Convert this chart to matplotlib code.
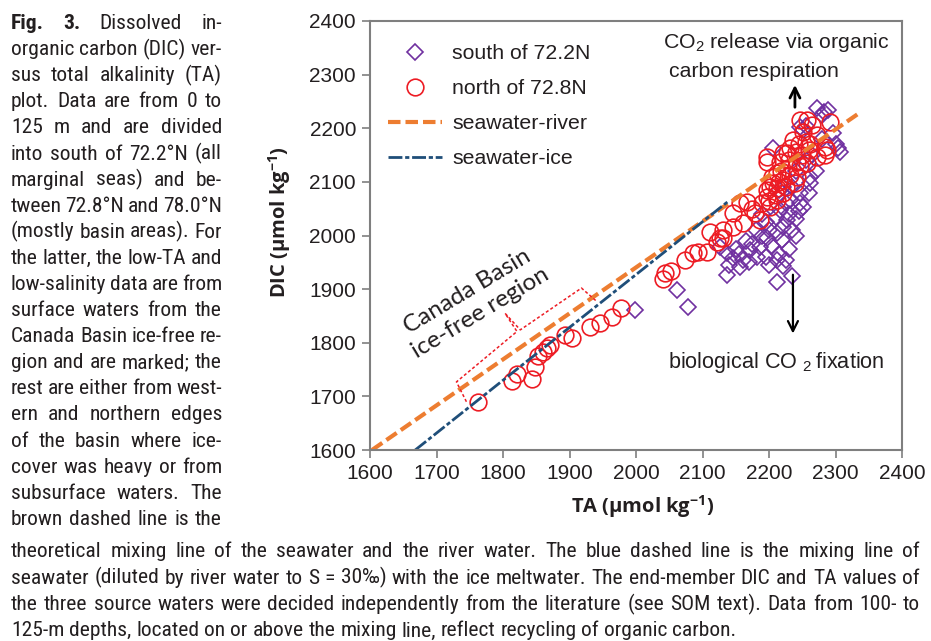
import matplotlib
matplotlib.use('Agg')
import matplotlib.pyplot as plt
from matplotlib import font_manager
from matplotlib.font_manager import FontProperties

W, H = 931, 641

# --- data ---
south_ta = [1998, 2062, 2078, 2137, 2212, 2221, 2156, 2212, 2161, 2146, 2137, 2126, 2171, 2182,
            2186, 2197, 2212, 2220, 2221, 2227, 2217, 2232, 2247, 2251, 2262, 2247, 2221, 2206,
            2251, 2247, 2296, 2304, 2307, 2272, 2289, 2280, 2255, 2230, 2240, 2200, 2190, 2175,
            2165, 2150, 2205, 2235, 2240, 2195, 2210, 2180, 2245, 2230, 2155, 2140, 2195, 2200,
            2225, 2260, 2270, 2265, 2240, 2255, 2235, 2190, 2215, 2280, 2300, 2215, 2170, 2225,
            2283, 2262, 2235]
south_dic = [1862, 1898, 1867, 1926, 1913, 1943, 1941, 1954, 1954, 1958, 1967, 1979, 1973, 1960,
             1979, 1995, 2005, 1992, 2016, 2029, 2047, 2066, 2079, 2053, 2098, 2060, 2091, 2163,
             2197, 2202, 2191, 2163, 2156, 2238, 2234, 2225, 2205, 2040, 2030, 2010, 2000, 1985,
             1990, 1975, 1980, 2010, 2000, 2025, 2035, 2010, 2045, 1975, 1965, 1945, 1960, 1945,
             2060, 2080, 2120, 2150, 2120, 2140, 2090, 2040, 2085, 2180, 2170, 1965, 1950, 1955,
             2230, 2110, 1925]

north_ta = [1763, 1814, 1821, 1844, 1848, 1853, 1860, 1866, 1871, 1893, 1904, 1931, 1946, 1964,
            1978, 2040, 2043, 2052, 2074, 2086, 2093, 2107, 2122, 2131, 2111, 2126, 2131, 2146,
            2146, 2156, 2161, 2167, 2179, 2186, 2197, 2202, 2197, 2202, 2206, 2212, 2212, 2221,
            2221, 2242, 2197, 2197, 2217, 2212, 2221, 2227, 2232, 2232, 2239, 2242, 2257, 2247,
            2250, 2260, 2272, 2284, 2284, 2287, 2272, 2251, 2247, 2257, 2265, 2292, 2236, 2245,
            2229, 2215, 2225, 2210, 2190, 2175, 2230, 2255, 2240, 2262, 2205, 2218, 2200]
north_dic = [1690, 1728, 1742, 1732, 1755, 1775, 1782, 1790, 1796, 1815, 1809, 1829, 1837, 1848,
             1864, 1918, 1930, 1934, 1955, 1967, 1970, 1970, 1988, 1996, 2006, 1995, 2010, 2016,
             2042, 2060, 2023, 2062, 2042, 2029, 2072, 2053, 2085, 2091, 2098, 2066, 2117, 2079,
             2104, 2109, 2137, 2147, 2137, 2089, 2154, 2154, 2163, 2113, 2098, 2137, 2135, 2130,
             2150, 2160, 2147, 2165, 2150, 2160, 2187, 2193, 2215, 2215, 2206, 2212, 2178, 2170,
             2125, 2100, 2090, 2075, 2060, 2050, 2140, 2175, 2155, 2170, 2110, 2120, 2065]

river_ta = [1603, 2333]
river_dic = [1600, 2226]
ice_ta = [1668, 2140]
ice_dic = [1600, 2065]

bracket_ta = [1745, 1730, 1821, 1803, 1826, 1918, 1941]
bracket_dic = [1690, 1727, 1821, 1855, 1824, 1902, 1877]

ticks = list(range(1600, 2401, 100))

caption_left = [
    "Fig. 3. Dissolved in-",
    "organic carbon (DIC) ver-",
    "sus total alkalinity (TA)",
    "plot. Data are from 0 to",
    "125 m and are divided",
    "into south of 72.2°N (all",
    "marginal seas) and be-",
    "tween 72.8°N and 78.0°N",
    "(mostly basin areas). For",
    "the latter, the low-TA and",
    "low-salinity data are from",
    "surface waters from the",
    "Canada Basin ice-free re-",
    "gion and are marked; the",
    "rest are either from west-",
    "ern and northern edges",
    "of the basin where ice-",
    "cover was heavy or from",
    "subsurface waters. The",
    "brown dashed line is the",
]
caption_bottom = [
    "theoretical mixing line of the seawater and the river water. The blue dashed line is the mixing line of",
    "seawater (diluted by river water to S = 30‰) with the ice meltwater. The end-member DIC and TA values of",
    "the three source waters were decided independently from the literature (see SOM text). Data from 100- to",
    "125-m depths, located on or above the mixing line, reflect recycling of organic carbon.",
]

red = '#ed1c24'
purple = '#7030a0'
orange = '#ed7d31'
navy = '#1f4e79'
ink = '#231f20'
grey = '#7f7f7f'

plt.rcParams['font.family'] = 'Liberation Sans'
plt.rcParams['mathtext.fontset'] = 'custom'
plt.rcParams['mathtext.rm'] = 'Liberation Sans'
plt.rcParams['mathtext.bf'] = 'Open Sans:bold'

# the caption is set in a condensed face; use one if the machine has it
cap_font, cap_stretch = 'Liberation Sans', 'normal'
names = {f.name for f in font_manager.fontManager.ttflist}
for cand in ['Liberation Sans Narrow', 'Arial Narrow', 'Roboto Condensed', 'Open Sans Condensed',
             'Noto Sans Condensed', 'DejaVu Sans Condensed']:
    if cand in names:
        cap_font = cand
        break
else:
    for fam in ['Noto Sans', 'Open Sans', 'Roboto', 'DejaVu Sans']:
        hit = [f for f in font_manager.fontManager.ttflist
               if f.name == fam and str(f.stretch) in ('condensed', 'semi-condensed')]
        if hit:
            cap_font, cap_stretch = fam, str(hit[0].stretch)
            break

fig = plt.figure(figsize=(W / 100, H / 100), dpi=100)
ax = fig.add_axes([370 / W, 1 - 450 / H, 532 / W, 429 / H])

ax.plot(south_ta, south_dic, ls='none', marker='D', ms=8.3, mfc='none', mec=purple, mew=1.2,
        label='south of 72.2N')
ax.plot(north_ta, north_dic, ls='none', marker='o', ms=12, mfc='none', mec=red, mew=1.2,
        label='north of 72.8N')
ax.plot(river_ta, river_dic, color=orange, lw=3, dashes=(3, 1.2), label='seawater-river')
ax.plot(ice_ta, ice_dic, color=navy, lw=2, dashes=(5, 1, 1.5, 1), label='seawater-ice')

ax.plot(bracket_ta, bracket_dic, color=red, lw=1.1, dashes=(2, 1.5))

ax.set_xlim(1600, 2400)
ax.set_ylim(1600, 2400)
ax.set_xticks(ticks)
ax.set_yticks(ticks)
for s in ax.spines.values():
    s.set_color(grey)
    s.set_linewidth(1.5)
ax.tick_params(direction='out', length=6, width=1.2, color=grey, labelcolor=ink,
               labelsize=15, pad=4)

ax.legend(loc='upper left', bbox_to_anchor=(0.034, 0.946), frameon=False, fontsize=15.3,
          handlelength=2.55, handletextpad=0.47, labelspacing=0.75, borderpad=0,
          borderaxespad=0, numpoints=1, labelcolor=ink)

# annotations
ax.text(2041, 2359, 'CO$_2$ release via organic', fontsize=15.3, color=ink, ha='left', va='center')
ax.text(2050, 2305, 'carbon respiration', fontsize=15.3, color=ink, ha='left', va='center')
ax.annotate('', xy=(2239, 2286), xytext=(2239, 2234),
            arrowprops=dict(arrowstyle='->', lw=2, color='black', mutation_scale=18))
ax.annotate('', xy=(2236, 1812), xytext=(2236, 1932),
            arrowprops=dict(arrowstyle='->', lw=1.6, color='black', mutation_scale=18))
ax.text(2048, 1753, r'biological CO $_2\,$fixation', fontsize=15.6, color=ink,
        ha='left', va='baseline')
ax.text(1756, 1876, 'Canada Basin\nice-free region', fontsize=17.5, family='Lato', color=ink,
        rotation=31, ha='center', va='center', multialignment='center', linespacing=1.2)

# axis labels
fig.text(280 / W, 1 - 222 / H, r'DIC (µmol kg$^{\mathbf{-1}}$)', rotation=90, fontsize=14.5,
         family='Open Sans', weight='bold', color=ink, ha='center', va='center')
fig.text(643 / W, 1 - 507 / H, r'TA (µmol kg$^{\mathbf{-1}}$)', fontsize=14.5,
         family='Open Sans', weight='bold', color=ink, ha='center', va='center')

# caption, justified word by word
renderer = fig.canvas.get_renderer()


def word_width(txt, weight, size):
    prop = FontProperties(family=cap_font, size=size, weight=weight, stretch=cap_stretch)
    return renderer.get_text_width_height_descent(txt, prop, ismath=False)[0]


def split(line, bold_first):
    words = line.split(' ')
    return words, ['bold' if i < bold_first else 'normal' for i in range(len(words))]


# pick one size for the caption so that every justified line fits its column
base = 16.0
fit = 1.0
space0 = word_width('a a', 'normal', base) - word_width('aa', 'normal', base)
for lines, x0, x1 in [(caption_left, 11, 222), (caption_bottom[:-1], 11, 920)]:
    for j, line in enumerate(lines):
        words, weights = split(line, 2 if (lines is caption_left and j == 0) else 0)
        need = sum(word_width(w, wt, base) for w, wt in zip(words, weights)) + 0.7 * space0 * (len(words) - 1)
        fit = min(fit, (x1 - x0) / need)
cap_size = base * fit
space_w = word_width('a a', 'normal', cap_size) - word_width('aa', 'normal', cap_size)


def justify(line, x0, x1, y, last=False, bold_first=0):
    words, weights = split(line, bold_first)
    widths = [word_width(w, wt, cap_size) for w, wt in zip(words, weights)]
    if last or len(words) == 1:
        gap = space_w
    else:
        gap = (x1 - x0 - sum(widths)) / (len(words) - 1)
    x = x0
    for w, wt, wd in zip(words, weights, widths):
        fig.text(x / W, 1 - y / H, w, fontsize=cap_size, family=cap_font, weight=wt,
                 stretch=cap_stretch, color=ink, va='baseline', ha='left')
        x += wd + gap


for i, line in enumerate(caption_left):
    justify(line, 11, 222, 29 + 26.1 * i, bold_first=2 if i == 0 else 0)

for i, line in enumerate(caption_bottom):
    justify(line, 11, 920, 557 + 26.5 * i, last=(i == len(caption_bottom) - 1))

fig.savefig('out.png', dpi=100)
